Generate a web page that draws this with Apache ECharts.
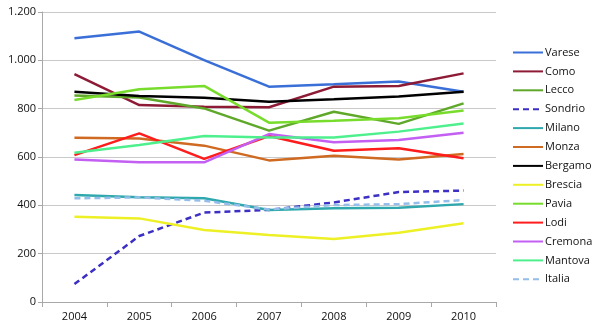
<!DOCTYPE html>
<html><head><meta charset="utf-8">
<script src="https://cdn.jsdelivr.net/npm/echarts@6/dist/echarts.min.js"></script>
<style>html,body{margin:0;padding:0;background:#fff}#c{width:600px;height:328px}</style>
</head><body><div id="c"></div>
<script>
const years = ['2004','2005','2006','2007','2008','2009','2010'];
const yTicks = [0, 200, 400, 600, 800, 1000, 1200];
const varese  = [1091, 1119, 1001, 891, 901, 912, 870];
const como    = [943, 815, 808, 806, 891, 894, 946];
const lecco   = [854, 846, 801, 709, 787, 737, 822];
const sondrio = [74, 273, 370, 381, 412, 455, 461];
const milano  = [443, 433, 429, 381, 388, 390, 405];
const monza   = [680, 677, 647, 586, 605, 590, 612];
const bergamo = [870, 852, 845, 829, 839, 850, 870];
const brescia = [353, 346, 298, 277, 261, 287, 326];
const pavia   = [836, 880, 894, 742, 750, 760, 792];
const lodi    = [608, 698, 592, 687, 626, 636, 595];
const cremona = [590, 578, 578, 695, 661, 670, 700];
const mantova = [618, 650, 687, 681, 681, 705, 739];
const italia  = [429, 433, 419, 383, 401, 405, 422];

const seriesDefs = [
  ['Varese', varese, '#3a6fd8', 'solid'],
  ['Como', como, '#8e1b35', 'solid'],
  ['Lecco', lecco, '#5fa82a', 'solid'],
  ['Sondrio', sondrio, '#3b2fc4', 'dashed'],
  ['Milano', milano, '#2fa8ad', 'solid'],
  ['Monza', monza, '#cf6a22', 'solid'],
  ['Bergamo', bergamo, '#000000', 'solid'],
  ['Brescia', brescia, '#eef026', 'solid'],
  ['Pavia', pavia, '#78dc2c', 'solid'],
  ['Lodi', lodi, '#ff1c1c', 'solid'],
  ['Cremona', cremona, '#c35ff2', 'solid'],
  ['Mantova', mantova, '#4ef08e', 'solid'],
  ['Italia', italia, '#94bde9', 'dashed']
];

const chart = echarts.init(document.getElementById('c'), null, {renderer: 'canvas'});
chart.setOption({
  animation: false,
  textStyle: {fontFamily: 'Open Sans'},
  grid: {left: 42, right: 104, top: 12, bottom: 26},
  legend: {
    orient: 'vertical', left: 507, top: 42,
    itemWidth: 30, itemHeight: 10, itemGap: 7.9,
    itemStyle: {opacity: 0},
    textStyle: {fontSize: 11, color: '#111', padding: [0, 0, 0, -3]},
    data: seriesDefs.map(d => d[0])
  },
  xAxis: {
    type: 'category', data: years, boundaryGap: true,
    axisLine: {lineStyle: {color: '#a8a8a8'}},
    axisTick: {show: true, length: 5, lineStyle: {color: '#a8a8a8'}},
    axisLabel: {fontSize: 11, color: '#111', margin: 9}
  },
  yAxis: {
    type: 'value', min: 0, max: 1200, interval: 200,
    axisLine: {show: true, lineStyle: {color: '#a8a8a8'}},
    axisTick: {show: true, length: 4, lineStyle: {color: '#a8a8a8'}},
    splitLine: {lineStyle: {color: '#c9c9c9'}},
    axisLabel: {fontSize: 11, color: '#111', margin: 6,
      formatter: v => yTicks.includes(v) ? String(v).replace(/\B(?=(\d{3})+(?!\d))/g, '.') : ''}
  },
  series: seriesDefs.map(d => ({
    name: d[0], type: 'line', data: d[1], symbol: 'none',
    itemStyle: {color: d[2]},
    lineStyle: {color: d[2], width: 2.5, type: d[3] === 'dashed' ? [6, 4] : 'solid'}
  }))
});
</script></body></html>
